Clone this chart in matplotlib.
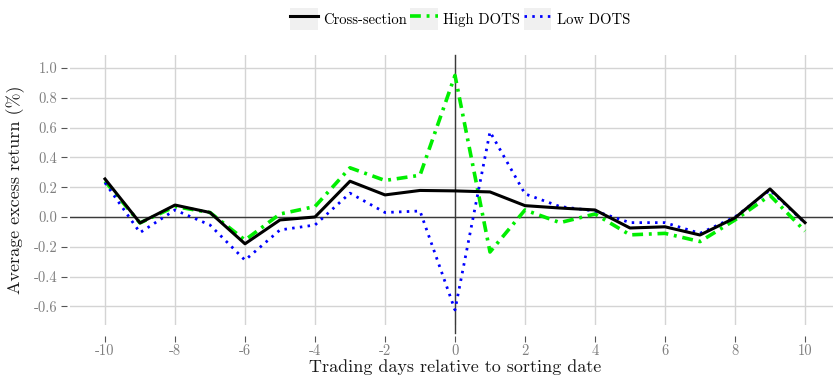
import matplotlib
matplotlib.use('Agg')
import matplotlib.pyplot as plt
from matplotlib.patches import Rectangle
from matplotlib.lines import Line2D
from matplotlib.legend_handler import HandlerTuple

plt.rcParams['font.family'] = 'cmr10'
plt.rcParams['axes.formatter.use_mathtext'] = True

# data
days = list(range(-10, 11))
cross_section = [0.255, -0.04, 0.08, 0.03, -0.18, -0.02, 0.0, 0.24, 0.148, 0.178, 0.175,
                 0.168, 0.076, 0.06, 0.047, -0.074, -0.066, -0.121, -0.006, 0.188, -0.038]
high_dots = [0.24, -0.04, 0.07, 0.03, -0.155, 0.02, 0.07, 0.33, 0.245, 0.28, 0.95,
             -0.235, 0.047, -0.038, 0.02, -0.12, -0.11, -0.165, -0.02, 0.145, -0.095]
low_dots = [0.23, -0.105, 0.047, -0.054, -0.29, -0.087, -0.054, 0.16, 0.03, 0.04, -0.624,
            0.572, 0.155, 0.07, 0.04, -0.038, -0.038, -0.11, 0.0, 0.18, -0.04]
xticks = list(range(-10, 11, 2))
yticks = [-0.6, -0.4, -0.2, 0.0, 0.2, 0.4, 0.6, 0.8, 1.0]

W, H = 833, 381
fig = plt.figure(figsize=(W / 100, H / 100), dpi=100)
# panel: x -11..11 (right side runs off the figure), y from px 55 to 325
ax = fig.add_axes([70 / W, 1 - 325 / H, 770 / W, 270 / H])
ax.set_xlim(-11, 11)
ax.set_ylim(-0.725, 1.087)

grid_col = '#d4d4d4'
ax.set_xticks(xticks)
ax.set_yticks(yticks)
ax.grid(True, color=grid_col, linewidth=1.0)
ax.set_axisbelow(True)
for s in ax.spines.values():
    s.set_visible(False)
ax.spines['bottom'].set_position(('outward', 8))
ax.spines['left'].set_position(('outward', 2))

ax.axhline(0, color='#3a3a3a', linewidth=1.0, zorder=1)
ax.axvline(0, color='#3a3a3a', linewidth=1.0, zorder=1, ymin=-0.03, clip_on=False)

green_dash = (3, 1.6, 0.8, 1.6)
blue_dash = (0.9, 1.9)
ax.plot(days, cross_section, color='black', linewidth=2.2, zorder=3)
ax.plot(days, high_dots, color='#00ee00', linewidth=2.6, zorder=2, dashes=green_dash)
ax.plot(days, low_dots, color='#0000ff', linewidth=2.0, zorder=2, dashes=blue_dash)

ax.set_xticklabels([str(v) for v in xticks])
ax.set_yticklabels(['%.1f' % v for v in yticks])
ax.tick_params(axis='both', labelsize=10.5, length=4, width=0.8,
               colors='#555555', labelcolor='#7f7f7f')
ax.tick_params(axis='x', pad=2)
ax.tick_params(axis='y', pad=3)

ax.set_xlabel('Trading days relative to sorting date', fontsize=13, color='#1a1a1a',
              labelpad=1)
ax.set_ylabel('Average excess return (%)', fontsize=13, color='#1a1a1a', labelpad=6)

bg = lambda: Rectangle((0, 0), 1, 1, facecolor='#f0f0f0', edgecolor='none')
h_cross = (bg(), Line2D([], [], color='black', linewidth=2.2))
h_high = (bg(), Line2D([], [], color='#00ee00', linewidth=2.6, dashes=green_dash))
h_low = (bg(), Line2D([], [], color='#0000ff', linewidth=2.0, dashes=blue_dash))
fig.legend([h_cross, h_high, h_low], ['Cross-section', 'High DOTS', 'Low DOTS'],
           handler_map={tuple: HandlerTuple(ndivide=1)},
           loc='center', bbox_to_anchor=(460 / W, 1 - 19 / H), ncol=3, frameon=False,
           fontsize=10.5, handlelength=1.9, handleheight=1.9, handletextpad=0.35,
           columnspacing=0.25)

fig.savefig('out.png', dpi=100)
